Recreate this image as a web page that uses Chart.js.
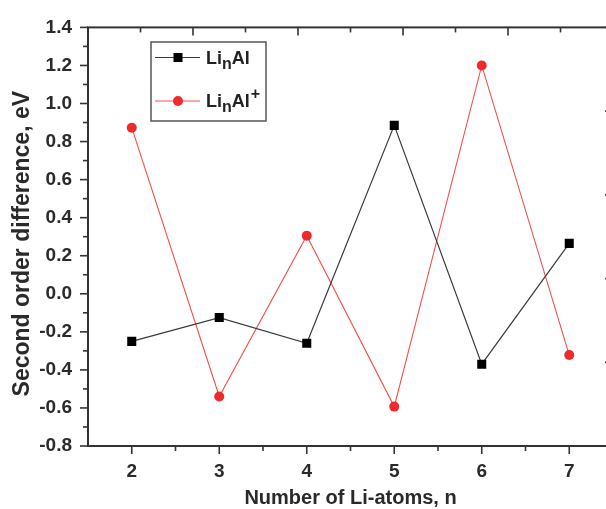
<!DOCTYPE html>
<html>
<head>
<meta charset="utf-8">
<script src="https://cdn.jsdelivr.net/npm/chart.js@4"></script>
<style>
  html, body { margin: 0; padding: 0; background: #fff; overflow: hidden; }
  #wrap { position: absolute; left: 0; top: 0; }
</style>
</head>
<body>
<div id="wrap"><canvas id="chart" width="620" height="509"></canvas></div>
<script>
// ---- data ----
const N_ATOMS = [2, 3, 4, 5, 6, 7];
const LINAL = [-0.25, -0.125, -0.26, 0.885, -0.37, 0.265];
const LINAL_PLUS = [0.873, -0.54, 0.305, -0.593, 1.2, -0.322];
const X_TICKS = [2, 3, 4, 5, 6, 7];
const Y_TICKS = [-0.8, -0.6, -0.4, -0.2, 0.0, 0.2, 0.4, 0.6, 0.8, 1.0, 1.2, 1.4];
const FRAME_TICKS = [0, 1, 2, 3, 4, 5]; // top / right axes of the box
const Y_TITLE = 'Second order difference, eV';
const X_TITLE = 'Number of Li-atoms, n';
const LEGEND_ITEMS = [
  { base: 'Li', sub: 'n', rest: 'Al', sup: '' },
  { base: 'Li', sub: 'n', rest: 'Al', sup: '+' },
];

const FONT = '"Liberation Sans", Arial, sans-serif';
const AXIS = '#333';
const TEXT = '#2a2a2a';

function mids(arr) {
  const out = [];
  for (let i = 0; i < arr.length - 1; i++) out.push((arr[i] + arr[i + 1]) / 2);
  return out;
}

// ---- frame + ticks (Origin style) ----
const framePlugin = {
  id: 'frame',
  afterDatasetsDraw(chart) {
    const { ctx, chartArea: a, scales } = chart;
    ctx.save();
    ctx.strokeStyle = AXIS;
    ctx.lineWidth = 2;
    ctx.strokeRect(a.left, a.top, a.right - a.left, a.bottom - a.top);
    ctx.lineWidth = 1.6;

    const tick = (x1, y1, x2, y2) => { ctx.beginPath(); ctx.moveTo(x1, y1); ctx.lineTo(x2, y2); ctx.stroke(); };

    // left: outward
    Y_TICKS.forEach(v => { const y = scales.y.getPixelForValue(v); tick(a.left, y, a.left - 8, y); });
    mids(Y_TICKS).forEach(v => { const y = scales.y.getPixelForValue(v); tick(a.left, y, a.left - 5, y); });
    // bottom: outward
    X_TICKS.forEach(v => { const x = scales.x.getPixelForValue(v); tick(x, a.bottom, x, a.bottom + 8); });
    mids(X_TICKS).forEach(v => { const x = scales.x.getPixelForValue(v); tick(x, a.bottom, x, a.bottom + 5); });
    // top: inward
    FRAME_TICKS.forEach(v => { const x = scales.x2.getPixelForValue(v); tick(x, a.top, x, a.top + 8); });
    mids(FRAME_TICKS).forEach(v => { const x = scales.x2.getPixelForValue(v); tick(x, a.top, x, a.top + 5); });
    // right: inward
    FRAME_TICKS.forEach(v => { const y = scales.y2.getPixelForValue(v); tick(a.right, y, a.right - 8, y); });
    mids(FRAME_TICKS).forEach(v => { const y = scales.y2.getPixelForValue(v); tick(a.right, y, a.right - 5, y); });

    // y title (sits a bit below the plot centre in the original)
    ctx.fillStyle = TEXT;
    ctx.font = 'bold 23px ' + FONT;
    ctx.textAlign = 'center';
    ctx.textBaseline = 'middle';
    ctx.translate(23, (a.top + a.bottom) / 2 + 7);
    ctx.rotate(-Math.PI / 2);
    ctx.fillText(Y_TITLE, 0, 0);
    ctx.restore();
  }
};

// ---- legend with sub/superscripts ----
const legendPlugin = {
  id: 'subLegend',
  afterDraw(chart) {
    const { ctx } = chart;
    const box = { x: 151, y: 42, w: 115, h: 79 };
    ctx.save();
    ctx.strokeStyle = '#555';
    ctx.lineWidth = 1.5;
    ctx.strokeRect(box.x, box.y, box.w, box.h);

    chart.data.datasets.forEach((ds, i) => {
      const cy = box.y + 15.5 + i * 43.5;
      ctx.strokeStyle = ds.borderColor;
      ctx.lineWidth = ds.borderWidth;
      ctx.beginPath(); ctx.moveTo(box.x + 4, cy); ctx.lineTo(box.x + 49, cy); ctx.stroke();
      ctx.fillStyle = ds.pointBackgroundColor;
      if (ds.pointStyle === 'rect') {
        ctx.fillRect(box.x + 27 - 4.5, cy - 4.5, 9, 9);
      } else {
        ctx.beginPath(); ctx.arc(box.x + 27, cy, 5, 0, Math.PI * 2); ctx.fill();
      }

      const it = LEGEND_ITEMS[i];
      const base = cy + 6;
      let x = box.x + 55;
      ctx.fillStyle = '#222';
      ctx.textBaseline = 'alphabetic';
      ctx.font = 'bold 18px ' + FONT;
      ctx.fillText(it.base, x, base); x += ctx.measureText(it.base).width;
      ctx.font = 'bold 16px ' + FONT;
      ctx.fillText(it.sub, x, base + 5); x += ctx.measureText(it.sub).width;
      ctx.font = 'bold 18px ' + FONT;
      ctx.fillText(it.rest, x, base); x += ctx.measureText(it.rest).width + 1;
      if (it.sup) {
        ctx.font = 'bold 16px ' + FONT;
        ctx.fillText(it.sup, x, base - 8);
      }
    });
    ctx.restore();
  }
};

new Chart(document.getElementById('chart'), {
  type: 'line',
  data: {
    datasets: [
      {
        label: 'LinAl',
        data: N_ATOMS.map((n, i) => ({ x: n, y: LINAL[i] })),
        borderColor: '#3a3a3a',
        borderWidth: 1.2,
        pointStyle: 'rect',
        pointRadius: 6.4,
        pointBackgroundColor: '#000',
        pointBorderWidth: 0,
        tension: 0,
      },
      {
        label: 'LinAl+',
        data: N_ATOMS.map((n, i) => ({ x: n, y: LINAL_PLUS[i] })),
        borderColor: '#f2514a',
        borderWidth: 1.1,
        pointStyle: 'circle',
        pointRadius: 5,
        pointBackgroundColor: '#ee2a2a',
        pointBorderWidth: 0,
        tension: 0,
      },
    ]
  },
  options: {
    responsive: false,
    animation: false,
    events: [],
    layout: { padding: 0 },
    plugins: { legend: { display: false }, tooltip: { enabled: false } },
    scales: {
      x: {
        type: 'linear', position: 'bottom', min: 1.5, max: 7.5,
        afterBuildTicks: s => { s.ticks = X_TICKS.map(v => ({ value: v })); },
        afterFit: s => { s.height = 63; },
        grid: { display: false, drawTicks: false },
        border: { display: false },
        ticks: { padding: 14, color: TEXT, font: { family: FONT, size: 19, weight: 'bold' }, callback: v => String(v) },
        title: { display: true, text: X_TITLE, color: TEXT, padding: 0,
                 font: { family: FONT, size: 20, weight: 'bold', lineHeight: 1.05 } },
      },
      y: {
        type: 'linear', position: 'left', min: -0.8, max: 1.4,
        afterBuildTicks: s => { s.ticks = Y_TICKS.map(v => ({ value: v })); },
        afterFit: s => { s.width = 88; },
        grid: { display: false, drawTicks: false },
        border: { display: false },
        ticks: { padding: 16, color: TEXT, font: { family: FONT, size: 19, weight: 'bold' }, callback: v => v.toFixed(1) },
      },
      x2: {
        type: 'linear', position: 'top', min: 0, max: 5,
        afterFit: s => { s.height = 23; },
        grid: { display: false, drawTicks: false },
        border: { display: false },
        ticks: { display: false },
      },
      y2: {
        type: 'linear', position: 'right', min: 0, max: 5,
        afterFit: s => { s.width = 7; },
        grid: { display: false, drawTicks: false },
        border: { display: false },
        ticks: { display: false },
      },
    }
  },
  plugins: [framePlugin, legendPlugin]
});
</script>
</body>
</html>
